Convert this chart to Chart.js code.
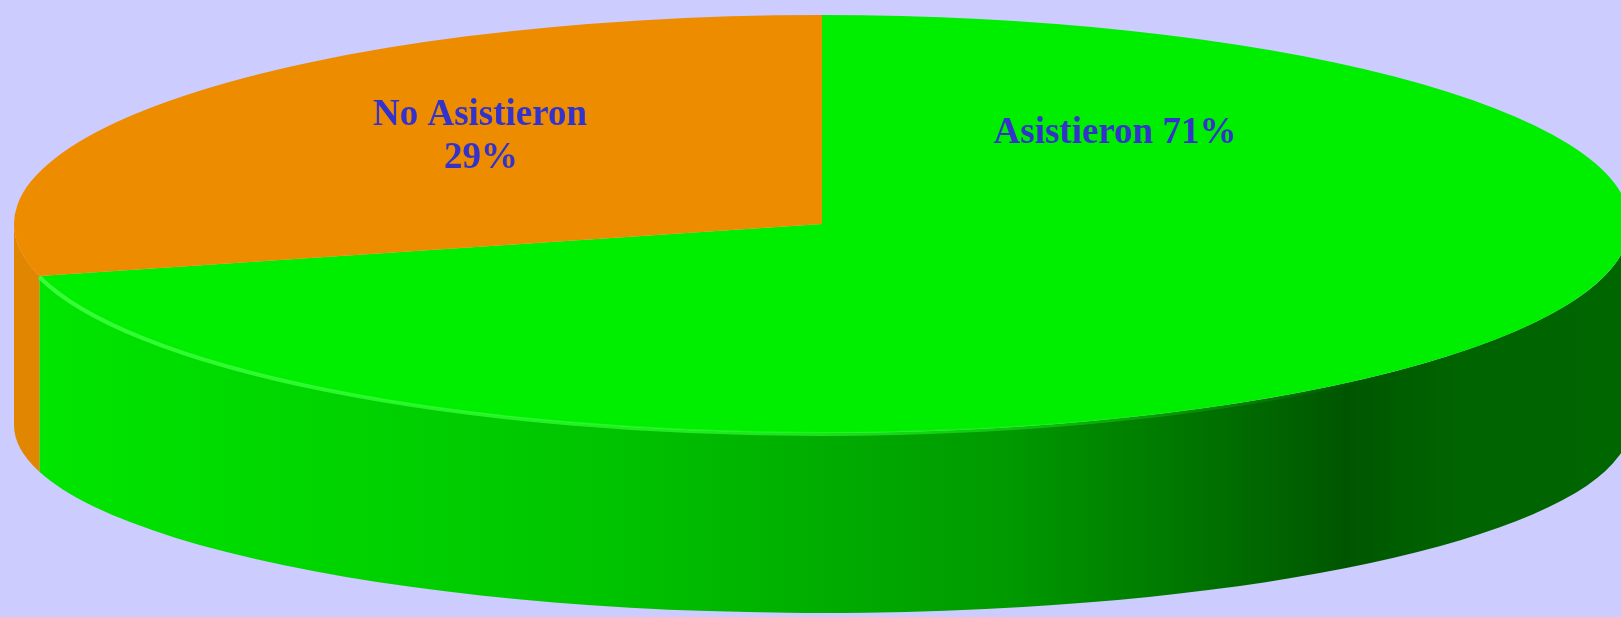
<!DOCTYPE html>
<html>
<head>
<meta charset="utf-8">
<script src="https://cdn.jsdelivr.net/npm/chart.js@4"></script>
<style>
  html, body { margin: 0; padding: 0; background: #ccccff; }
  #wrap { width: 1621px; height: 617px; }
</style>
</head>
<body>
<div id="wrap"><canvas id="myChart" width="1621" height="617"></canvas></div>
<script>
const categorias = ['Asistieron', 'No Asistieron'];
const porcentajes = [71, 29];
const coloresTapa = ['#00ee00', '#ee8c00'];

// elipse de la tapa y de la base (vista en perspectiva)
const tapa = { x: 822, y: 224, rx: 808, ry: 209 };
const base = { x: 822, y: 425, rx: 808, ry: 188 };

function mapArc(ctx, arc) {
    const r = arc.outerRadius;
    ctx.translate(tapa.x, tapa.y);
    ctx.scale(tapa.rx / r, tapa.ry / r);
    ctx.translate(-arc.x, -arc.y);
}

const pie3d = {
    id: 'pie3d',
    beforeDatasetsDraw(chart) {
        const ctx = chart.ctx;
        const arcs = chart.getDatasetMeta(0).data;
        // pared lateral: solo la mitad de delante (0..PI)
        arcs.forEach((arc, i) => {
            let a0 = Math.max(arc.startAngle, 0);
            let a1 = Math.min(arc.endAngle, Math.PI);
            if (a1 <= a0) return;
            const g = ctx.createLinearGradient(0, 0, 1621, 0);
            if (i === 0) {
                g.addColorStop(0.00, '#00e800');
                g.addColorStop(0.37, '#00c400');
                g.addColorStop(0.62, '#009a00');
                g.addColorStop(0.83, '#005600');
                g.addColorStop(0.90, '#006400');
                g.addColorStop(1.00, '#006600');
            } else {
                g.addColorStop(0.000, '#f09a10');
                g.addColorStop(0.008, '#e08600');
                g.addColorStop(1.000, '#d98000');
            }
            ctx.save();
            ctx.beginPath();
            ctx.ellipse(tapa.x, tapa.y, tapa.rx, tapa.ry, 0, a0, a1, false);
            ctx.ellipse(base.x, base.y, base.rx, base.ry, 0, a1, a0, true);
            ctx.closePath();
            ctx.fillStyle = g;
            ctx.fill();
            ctx.restore();
        });
        ctx.save();
        mapArc(ctx, arcs[0]);
    },
    afterDatasetsDraw(chart) {
        const ctx = chart.ctx;
        ctx.restore();
        const arcs = chart.getDatasetMeta(0).data;
        // brillo en el borde delantero de la tapa
        const a0 = Math.max(arcs[0].startAngle, 0);
        const a1 = Math.min(arcs[0].endAngle, Math.PI);
        const g = ctx.createLinearGradient(0, 0, 1621, 0);
        g.addColorStop(0.0, 'rgba(60,255,60,0.95)');
        g.addColorStop(0.5, 'rgba(40,250,40,0.7)');
        g.addColorStop(0.85, 'rgba(20,240,20,0)');
        ctx.save();
        ctx.beginPath();
        ctx.ellipse(tapa.x, tapa.y + 1, tapa.rx, tapa.ry, 0, a0, a1, false);
        ctx.strokeStyle = g;
        ctx.lineWidth = 4;
        ctx.stroke();
        ctx.restore();

        // etiquetas
        ctx.save();
        ctx.fillStyle = '#3333cc';
        ctx.font = 'bold 37px "Liberation Serif", "DejaVu Serif", serif';
        ctx.textAlign = 'center';
        ctx.textBaseline = 'alphabetic';
        ctx.fillText(categorias[0] + ' ' + porcentajes[0] + '%', 1115, 143);
        ctx.fillText(categorias[1], 480, 125);
        ctx.fillText(porcentajes[1] + '%', 481, 168);
        ctx.restore();
    }
};

const ctx = document.getElementById('myChart').getContext('2d');

const myChart = new Chart(ctx, {
    type: 'pie',
    data: {
        labels: categorias,
        datasets: [{
            data: porcentajes,
            backgroundColor: coloresTapa,
            borderWidth: 0
        }]
    },
    options: {
        responsive: false,
        animation: false,
        layout: { padding: 0 },
        plugins: {
            legend: { display: false },
            tooltip: { enabled: false }
        }
    },
    plugins: [pie3d]
});
</script>
</body>
</html>
